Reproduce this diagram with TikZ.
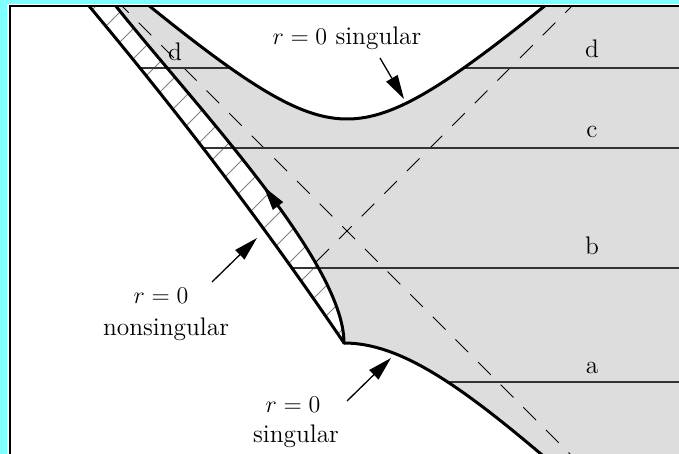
\documentclass[tikz,border=0pt]{standalone}
\usetikzlibrary{arrows.meta}
\definecolor{bgcyan}{RGB}{128,255,255}
\definecolor{shadegray}{RGB}{221,221,221}
\begin{document}
\begin{tikzpicture}[x=0.5pt,y=-0.5pt,
  curve/.style={line width=1.5pt, line join=round, line cap=round},
  slice/.style={line width=0.75pt, black!80},
  cone/.style={line width=0.5pt, dash pattern=on 9pt off 7pt},
  hatchline/.style={line width=0.45pt, black!50},
  lbl/.style={font=\fontsize{12.7}{15}\selectfont, inner sep=0pt, anchor=base},
  pointer/.style={line width=0.65pt, -{Triangle[length=12pt,width=6.5pt]}}
]
\fill[bgcyan] (0,0) rectangle (679,454);
\fill[white] (7,4) rectangle (679,454);
\useasboundingbox (0,0) rectangle (679,454);

\begin{scope}
\clip (10.5,6.8) rectangle (679,454);
% shaded region
\fill[shadegray] (111,0) .. controls (190,100) and (344,260) .. (344,343)
  .. controls (400,343) and (460,385) .. (548,460)
  -- (690,460) -- (690,-10) -- (552,-10) -- (552,0)
  -- plot[domain=552:142, samples=100] (\x, {119-80*(sqrt(1+((\x-347)/90)^2)-1)})
  -- (142,-10) -- (111,-10) -- cycle;
% hatching in the band
\begin{scope}
\clip plot[domain=-5:343, samples=60] ({84+0.839*\x-2.36*(\x/100)^2}, \x)
  -- (344,343) .. controls (344,260) and (190,100) .. (111,0) -- (107,-5) -- cycle;
\foreach \c in {42,72,...,800} \draw[hatchline] (\c,0) -- (\c-460,460);
\end{scope}
% light cone lines
\begin{scope}
\clip (111,0) .. controls (190,100) and (344,260) .. (344,343)
  .. controls (400,343) and (460,385) .. (548,460)
  -- (690,460) -- (690,-10) -- (552,-10) -- (552,0)
  -- plot[domain=552:142, samples=100] (\x, {119-80*(sqrt(1+((\x-347)/90)^2)-1)})
  -- (142,-10) -- (111,-10) -- cycle;
\coordinate (c1a) at (116,0); \coordinate (c1b) at (576,460);
\coordinate (c2a) at (578,0); \coordinate (c2b) at (290,288);
\draw[cone] (c1a) -- (c1b);
\draw[cone] (c2a) -- (c2b);
\end{scope}
% slices
\coordinate (d1a) at (140,68); \coordinate (d1b) at (230,68);
\coordinate (d2a) at (464,68); \coordinate (d2b) at (679,68);
\coordinate (ca) at (203,148); \coordinate (cb) at (679,148);
\coordinate (ba) at (292,268); \coordinate (bb) at (679,268);
\coordinate (aa) at (449,382); \coordinate (ab) at (679,382);
\draw[slice] (d1a) -- (d1b);
\draw[slice] (d2a) -- (d2b);
\draw[slice] (ca) -- (cb);
\draw[slice] (ba) -- (bb);
\draw[slice] (aa) -- (ab);
% thick curves
\draw[curve] plot[domain=-5:343, samples=60] ({84+0.839*\x-2.36*(\x/100)^2}, \x);
\draw[curve] (107,-5) -- (111,0) .. controls (190,100) and (344,260) .. (344,343);
\draw[curve] (344,343) .. controls (400,343) and (460,385) .. (548,460);
\draw[curve] plot[domain=142:552, samples=100] (\x, {119-80*(sqrt(1+((\x-347)/90)^2)-1)});
\end{scope}

% frame
\draw[line width=1pt] (9.5,454) -- (9.5,5.8) -- (679,5.8);

% arrowhead on the nonsingular curve
\fill (263.7,186.7) -- (283.2,202.1) -- (272.8,209.9) -- cycle;

% labels
\node[lbl] (topsing) at (347,45) {$r=0$ singular};
\node[lbl] (dleft) at (175,61) {d};
\node[lbl] (dright) at (592,58) {d};
\node[lbl] (clab) at (592,138) {c};
\node[lbl] (blab) at (592,255) {b};
\node[lbl] (alab) at (592,373) {a};
\node[lbl] (nsr) at (161,303) {$r=0$};
\node[lbl] (nsname) at (166,335) {nonsingular};
\node[lbl] (bsr) at (293,412) {$r=0$};
\node[lbl] (bsname) at (296,442) {singular};

% pointers
\coordinate (p1s) at (380,58); \coordinate (p1e) at (404,99);
\coordinate (p2s) at (212,282); \coordinate (p2e) at (257,238);
\coordinate (p3s) at (347,401); \coordinate (p3e) at (391,358);
\draw[pointer] (p1s) -- (p1e);
\draw[pointer] (p2s) -- (p2e);
\draw[pointer] (p3s) -- (p3e);
\end{tikzpicture}
\end{document}
